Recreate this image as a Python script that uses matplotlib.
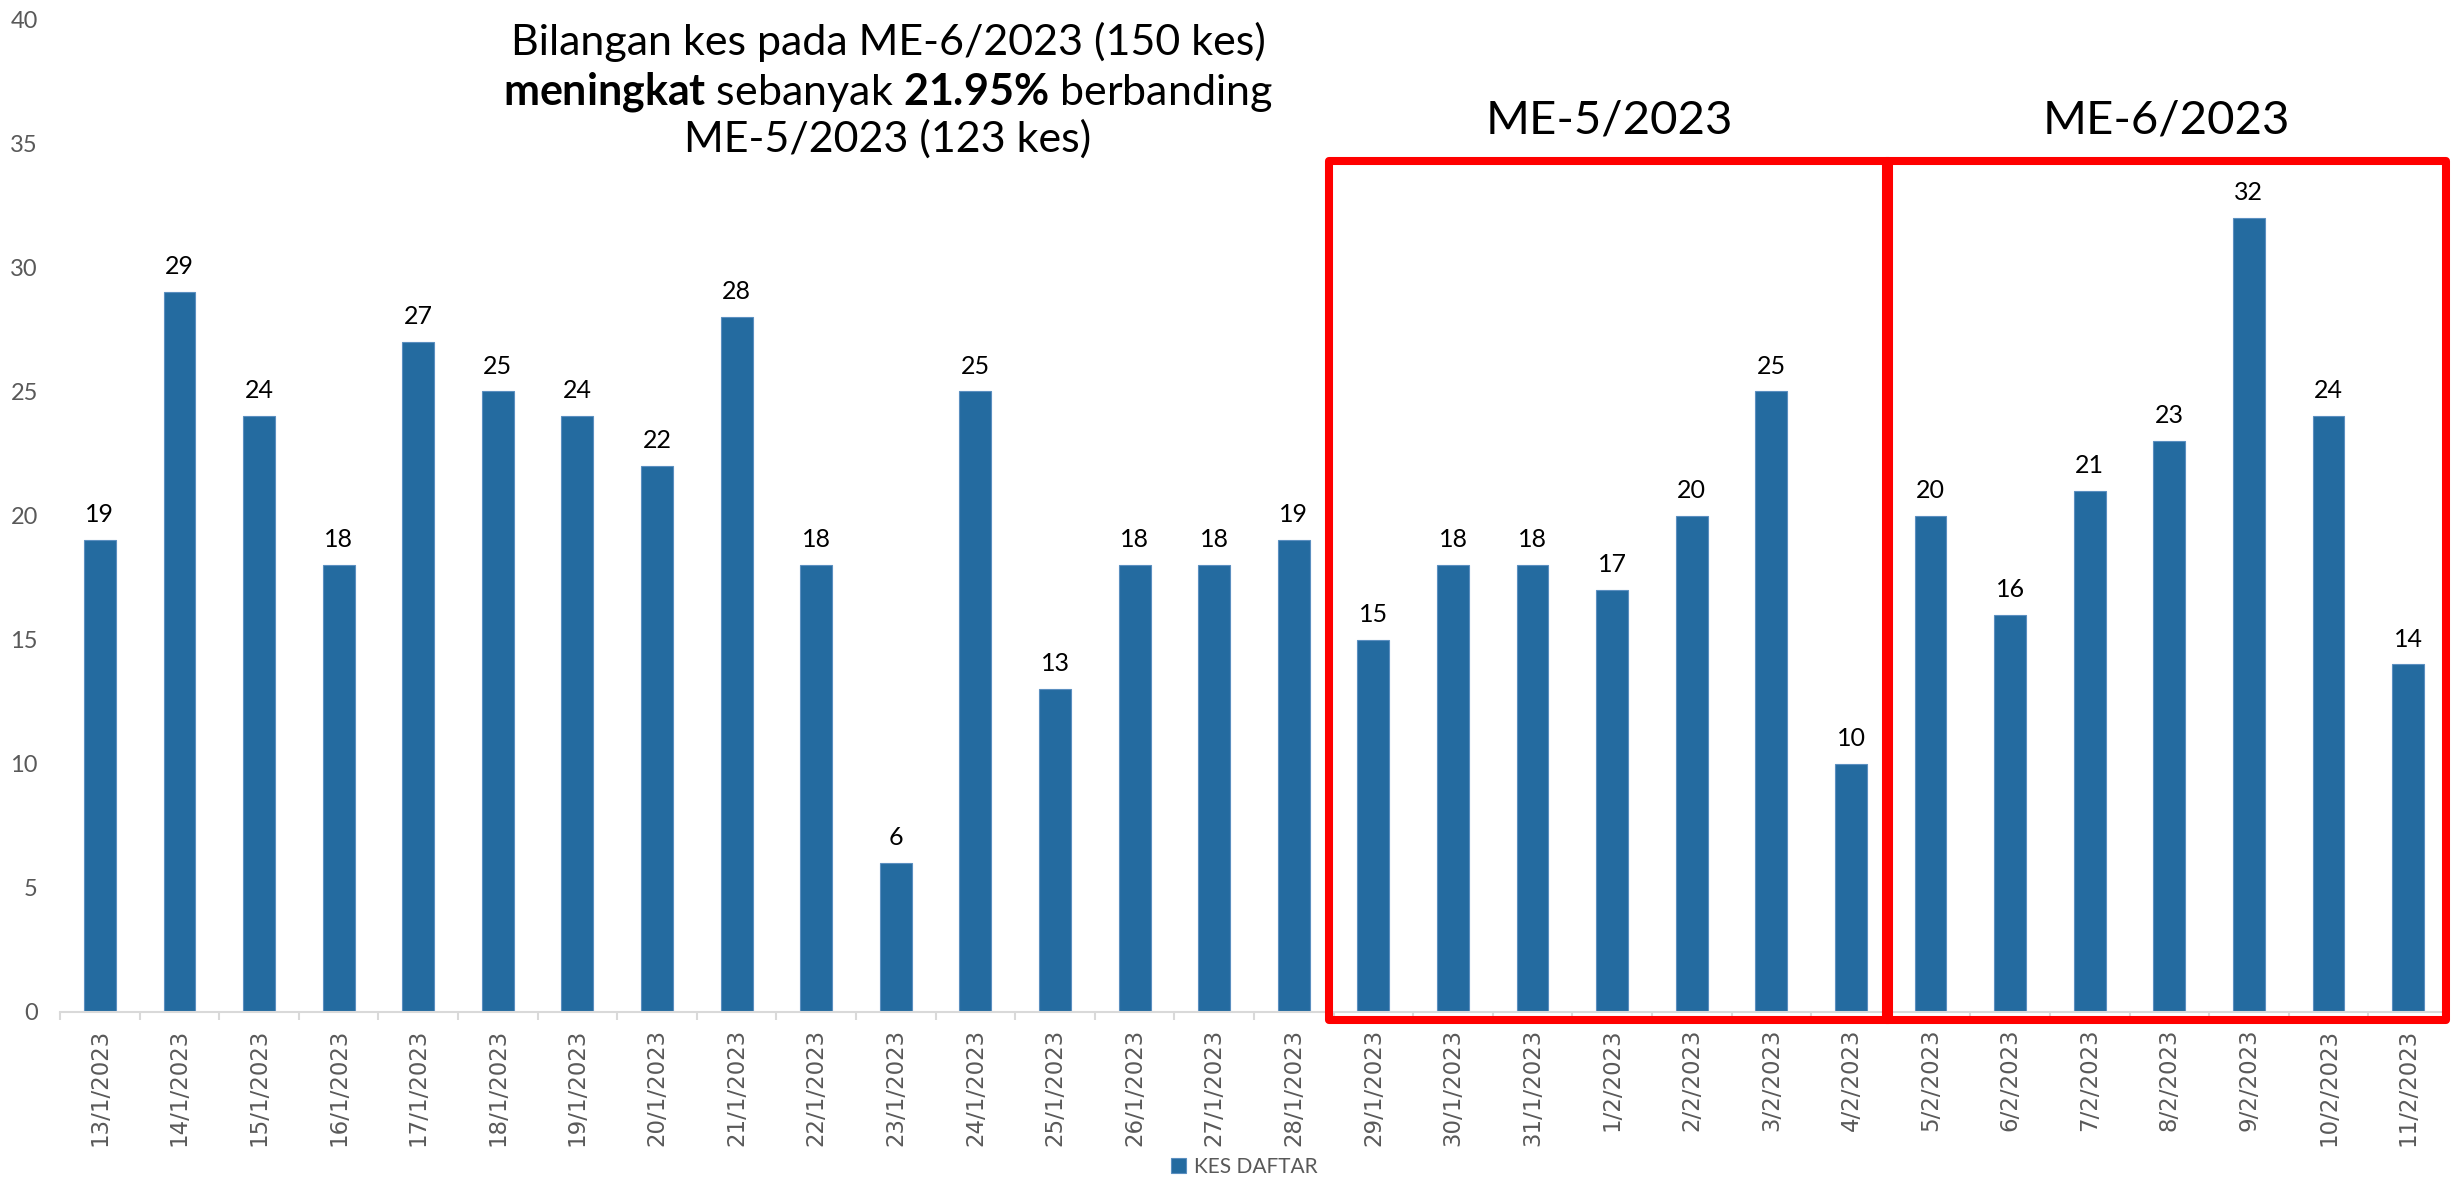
import matplotlib.pyplot as plt
from matplotlib.patches import Rectangle

dates = ["13/1/2023", "14/1/2023", "15/1/2023", "16/1/2023", "17/1/2023", "18/1/2023",
         "19/1/2023", "20/1/2023", "21/1/2023", "22/1/2023", "23/1/2023", "24/1/2023",
         "25/1/2023", "26/1/2023", "27/1/2023", "28/1/2023",
         "29/1/2023", "30/1/2023", "31/1/2023", "1/2/2023", "2/2/2023", "3/2/2023", "4/2/2023",
         "5/2/2023", "6/2/2023", "7/2/2023", "8/2/2023", "9/2/2023", "10/2/2023", "11/2/2023"]
kes_daftar = [19, 29, 24, 18, 27, 25, 24, 22, 28, 18, 6, 25, 13, 18, 18, 19,
              15, 18, 18, 17, 20, 25, 10,
              20, 16, 21, 23, 32, 24, 14]
# first / last index of each week box
me5_range = (16, 22)
me6_range = (23, 29)
box_labels = ["ME-5/2023", "ME-6/2023"]

plt.rcParams['font.family'] = ['Lato', 'DejaVu Sans']
plt.rcParams['mathtext.fontset'] = 'custom'
plt.rcParams['mathtext.rm'] = 'Lato'
plt.rcParams['mathtext.bf'] = 'Lato:bold'

bar_color = '#246ba0'
grey = '#595959'

fig = plt.figure(figsize=(24.6, 11.91), dpi=100)
ax = fig.add_axes([0.0244, 0.1503, 0.9707, 0.8337])

x = list(range(len(dates)))
bars = ax.bar(x, kes_daftar, width=0.4, color=bar_color, edgecolor='#5b8fc0',
              linewidth=0.8, label='KES DAFTAR')
ax.bar_label(bars, padding=10, fontsize=18, color='black')

ax.set_xlim(-0.5, len(dates) - 0.5)
ax.set_ylim(0, 40)
ax.set_yticks(range(0, 41, 5))
ax.set_xticks(x)
ax.set_xticklabels(dates, rotation=90, fontsize=16.5, color=grey, family='DejaVu Sans')
ax.set_xticks([i - 0.5 for i in range(len(dates) + 1)], minor=True)
ax.tick_params(axis='x', which='major', length=0, pad=12)
ax.tick_params(axis='x', which='minor', length=6, width=1.5, color='#d9d9d9')
ax.tick_params(axis='y', length=0, pad=16, labelsize=17, labelcolor=grey)

for s in ['top', 'right', 'left']:
    ax.spines[s].set_visible(False)
ax.spines['bottom'].set_color('#d9d9d9')
ax.spines['bottom'].set_linewidth(1.5)

# red boxes around the two weeks
y_low, y_top = -0.32, 34.27
for (a, b), lab in zip([me5_range, me6_range], box_labels):
    left = a - 0.56
    right = b + 0.48
    rect = Rectangle((left, y_low), right - left, y_top - y_low, fill=False,
                     edgecolor='#ff0000', linewidth=5.8, joinstyle='round',
                     clip_on=False, zorder=5)
    ax.add_patch(rect)
    ax.text((left + right) / 2, 35.9, lab, ha='center', va='center',
            fontsize=34, color='black')

fig.text(0.361, 0.965, "Bilangan kes pada ME-6/2023 (150 kes)", ha='center',
         va='center', fontsize=31)
fig.text(0.361, 0.923, r"$\mathbf{meningkat}$ sebanyak $\mathbf{21.95\%}$ berbanding",
         ha='center', va='center', fontsize=31)
fig.text(0.361, 0.883, "ME-5/2023 (123 kes)", ha='center', va='center', fontsize=31)

fig.legend(loc='lower center', bbox_to_anchor=(0.506, -0.004), frameon=False,
           fontsize=15, labelcolor=grey, handlelength=0.7, handleheight=0.7,
           handletextpad=0.4)

fig.savefig('out.png', dpi=100)
